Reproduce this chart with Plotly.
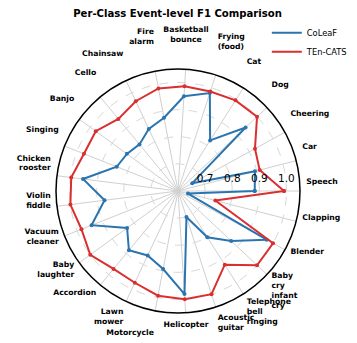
import plotly.graph_objects as go

categories = ['Speech', 'Car', 'Cheering', 'Dog', 'Cat', 'Frying<br>(food)', 'Basketball<br>bounce',
              'Fire<br>alarm', 'Chainsaw', 'Cello', 'Banjo', 'Singing', 'Chicken<br>rooster',
              'Violin<br>fiddle', 'Vacuum<br>cleaner', 'Baby<br>laughter', 'Accordion', 'Lawn<br>mower',
              'Motorcycle', 'Helicopter', 'Acoustic<br>guitar', 'Telephone<br>bell<br>ringing',
              'Baby<br>cry<br>infant<br>cry', 'Blender', 'Clapping']

coleaf = [0.883, 0.893, 0.660, 0.942, 0.821, 0.980, 0.950, 0.875, 0.853, 0.823, 0.833, 0.843, 0.953,
          0.873, 0.943, 0.832, 0.884, 0.863, 0.893, 0.981, 0.701, 0.802, 0.869, 0.973, 0.638]
tencats = [0.991, 0.911, 0.924, 1.0, 0.996, 0.986, 0.987, 0.985, 0.966, 0.945, 0.975, 0.973, 0.997,
           1.0, 0.983, 1.0, 0.973, 0.974, 0.993, 1.0, 1.0, 0.922, 1.0, 1.0, 0.742]

r_ticks = [0.7, 0.8, 0.9, 1.0]

# matplotlib centres the class labels on a circle; plotly anchors them at the inner edge,
# two blank trailing lines push them out to roughly the same place
tick_text = [c + '<br> <br> ' for c in categories]
tick_text[categories.index('Motorcycle')] = ' <br>Motorcycle'

fig = go.Figure()
for name, vals, color in [('CoLeaF', coleaf, '#2a74b0'), ('TEn-CATS', tencats, '#d9302f')]:
    fig.add_trace(go.Scatterpolar(
        r=vals + vals[:1], theta=categories + categories[:1], name=name, mode='lines+markers',
        line=dict(color=color, width=2), marker=dict(size=4, color=color), showlegend=False))
    # legend entry: line only, like the original
    fig.add_trace(go.Scatterpolar(r=[None], theta=[categories[0]], name=name, mode='lines',
                                  line=dict(color=color, width=2)))

fig.update_layout(
    width=357, height=343, margin=dict(l=0, r=0, t=0, b=0),
    paper_bgcolor='white', plot_bgcolor='white',
    font=dict(family='DejaVu Sans', color='black'),
    title=dict(text='<b>Per-Class Event-level F1 Comparison</b>', x=0.475, xanchor='center',
               y=0.984, yanchor='middle', font=dict(size=10.1)),
    legend=dict(x=0.725, y=0.97, xanchor='left', yanchor='top', font=dict(size=8.3),
                bgcolor='rgba(0,0,0,0)', itemwidth=30, tracegroupgap=0),
    polar=dict(
        domain=dict(x=[48/357, 292/357], y=[1-305/343, 1-61/343]),
        bgcolor='white',
        angularaxis=dict(rotation=0, direction='counterclockwise', showline=True, linecolor='black',
                         linewidth=1.5, gridcolor='#d0d0d0', gridwidth=0.8,
                         tickmode='array', tickvals=categories, ticktext=tick_text,
                         ticks='outside', ticklen=4, tickcolor='rgba(0,0,0,0)',
                         tickfont=dict(size=7.7, family='DejaVu Sans', weight='bold')),
        radialaxis=dict(range=[0.6, 1.05], tickvals=r_ticks, ticktext=['0.7', '0.8', '0.9', '1.0'],
                        angle=0, showline=False, gridcolor='#d8d8d8', griddash='dash', gridwidth=0.8,
                        ticks='outside', ticklen=4, tickcolor='rgba(0,0,0,0)',
                        tickfont=dict(size=10.5), side='counterclockwise'),
    ),
)

fig.write_html("out.html")
